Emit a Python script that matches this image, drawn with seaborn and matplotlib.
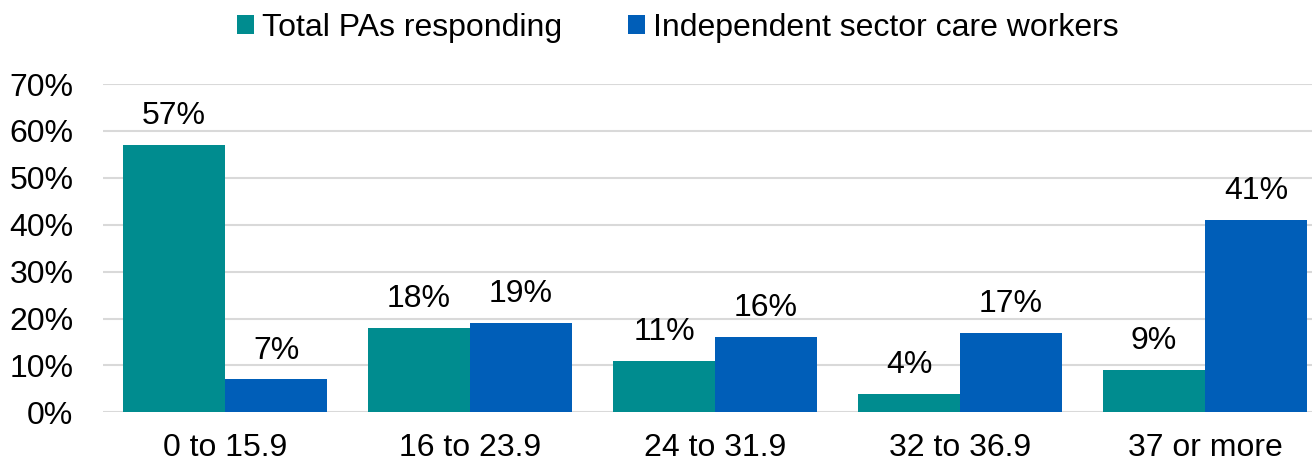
import matplotlib
matplotlib.use("Agg")
import matplotlib.pyplot as plt
import seaborn as sns
import pandas as pd
from matplotlib.patches import Patch

categories = ["0 to 15.9", "16 to 23.9", "24 to 31.9", "32 to 36.9", "37 or more"]
series_names = ["Total PAs responding", "Independent sector care workers"]
total_pas = [57, 18, 11, 4, 9]
independent = [7, 19, 16, 17, 41]
y_ticks = [0, 10, 20, 30, 40, 50, 60, 70]

colors = ["#008C8F", "#005EB8"]
FS = 23

df = pd.DataFrame({
    "band": categories * 2,
    "series": [series_names[0]] * len(categories) + [series_names[1]] * len(categories),
    "value": [v / 100 for v in total_pas + independent],
})

sns.set_theme(style="white")
plt.rcParams["font.family"] = ["Liberation Sans", "DejaVu Sans"]
plt.rcParams["text.color"] = "#000000"

fig = plt.figure(figsize=(13.12, 4.63), dpi=100)
ax = fig.add_axes([102.5 / 1312, 50.7 / 463, 1225 / 1312, (412.3 - 84) / 463])

sns.barplot(data=df, x="band", y="value", hue="series", palette=colors,
            width=0.833, gap=0, ax=ax, legend=False, saturation=1,
            edgecolor="none", linewidth=0)

ax.set_ylim(0, 0.7)
ax.set_xlim(-0.5, len(categories) - 0.5)
ax.set_yticks([t / 100 for t in y_ticks])
ax.set_yticklabels([f"{t}%" for t in y_ticks], fontsize=FS, color="#000000")
ax.tick_params(axis="y", pad=21, length=0)
ax.tick_params(axis="x", labelsize=FS, length=0, pad=15, colors="#000000")
ax.set_xlabel("")
ax.set_ylabel("")
ax.yaxis.grid(True, color="#D9D9D9", linewidth=1.5)
ax.set_axisbelow(True)
for s in ax.spines.values():
    s.set_visible(False)

for container in ax.containers:
    labels = [f"{round(b.get_height() * 100)}%" for b in container]
    ax.bar_label(container, labels=labels, padding=10, fontsize=FS, color="#000000")

handles = [Patch(facecolor=c, edgecolor="none") for c in colors]
fig.legend(handles, series_names, loc="center", bbox_to_anchor=(678 / 1312, 1 - 28 / 463),
           ncol=2, frameon=False, fontsize=FS, handlelength=0.53, handleheight=0.53,
           handletextpad=0.25, columnspacing=2.05, borderaxespad=0, labelcolor="#000000")

fig.savefig("out.png", dpi=100)
